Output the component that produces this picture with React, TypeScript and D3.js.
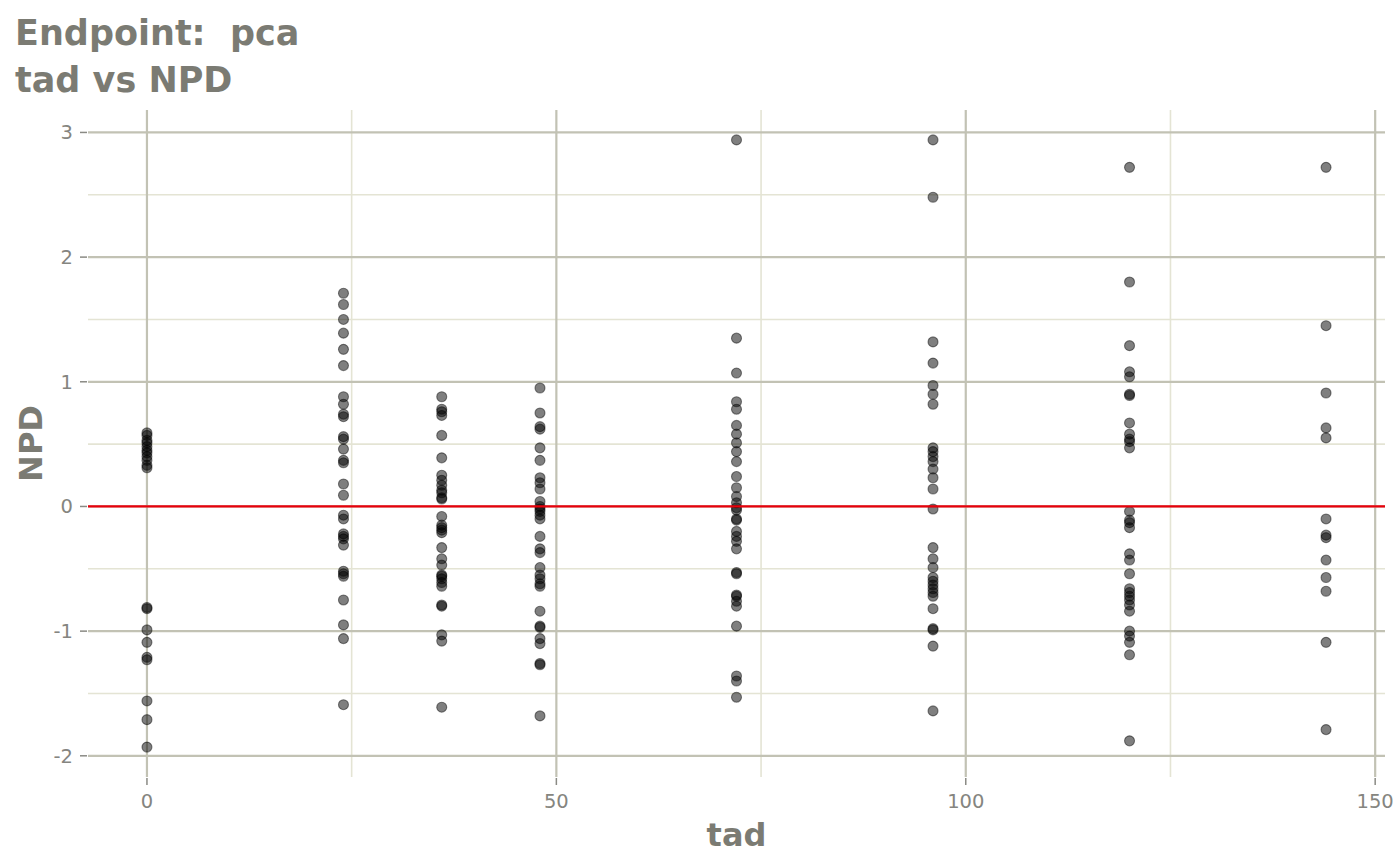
import React from 'react';
import * as d3 from 'd3';

// NPD values per time after dose (tad)
const tadLevels = [0, 24, 36, 48, 72, 96, 120, 144];

const npd0 = [0.59, 0.57, 0.53, 0.51, 0.48, 0.45, 0.43, 0.40, 0.37, 0.33, 0.31, -0.81, -0.82, -0.99, -1.09, -1.21, -1.23, -1.56, -1.71, -1.93];
const npd24 = [1.71, 1.62, 1.50, 1.39, 1.26, 1.13, 0.88, 0.82, 0.74, 0.72, 0.56, 0.54, 0.46, 0.37, 0.35, 0.18, 0.09, -0.07, -0.10, -0.22, -0.24, -0.26, -0.31, -0.52, -0.54, -0.56, -0.75, -0.95, -1.06, -1.59];
const npd36 = [0.88, 0.78, 0.76, 0.73, 0.57, 0.39, 0.25, 0.21, 0.17, 0.13, 0.11, 0.07, 0.06, -0.08, -0.15, -0.17, -0.19, -0.21, -0.33, -0.42, -0.47, -0.55, -0.56, -0.58, -0.61, -0.64, -0.79, -0.80, -1.03, -1.08, -1.61];
const npd48 = [0.95, 0.75, 0.64, 0.62, 0.47, 0.37, 0.23, 0.19, 0.14, 0.04, 0.0, -0.02, -0.04, -0.07, -0.10, -0.24, -0.34, -0.37, -0.49, -0.55, -0.58, -0.62, -0.64, -0.84, -0.96, -0.97, -1.06, -1.10, -1.26, -1.27, -1.68];
const npd72 = [2.94, 1.35, 1.07, 0.84, 0.78, 0.65, 0.58, 0.51, 0.44, 0.36, 0.24, 0.15, 0.08, 0.03, -0.01, -0.03, -0.10, -0.11, -0.20, -0.24, -0.28, -0.34, -0.53, -0.54, -0.71, -0.72, -0.76, -0.80, -0.96, -1.36, -1.40, -1.53];
const npd96 = [2.94, 2.48, 1.32, 1.15, 0.97, 0.90, 0.82, 0.47, 0.44, 0.40, 0.36, 0.30, 0.23, 0.14, -0.02, -0.33, -0.42, -0.49, -0.57, -0.60, -0.63, -0.66, -0.69, -0.72, -0.82, -0.98, -0.99, -1.12, -1.64];
const npd120 = [2.72, 1.80, 1.29, 1.08, 1.04, 0.89, 0.90, 0.67, 0.58, 0.54, 0.52, 0.47, -0.04, -0.11, -0.13, -0.17, -0.38, -0.43, -0.54, -0.66, -0.69, -0.72, -0.75, -0.79, -0.84, -1.00, -1.04, -1.09, -1.19, -1.88];
const npd144 = [2.72, 1.45, 0.91, 0.63, 0.55, -0.10, -0.23, -0.25, -0.43, -0.57, -0.68, -1.09, -1.79];

const npdByTad = [npd0, npd24, npd36, npd48, npd72, npd96, npd120, npd144];

const xTicks = [0, 50, 100, 150];
const xMinor = [25, 75, 125];
const yTicks = [-2, -1, 0, 1, 2, 3];
const yMinor = [-1.5, -0.5, 0.5, 1.5, 2.5];

const W = 1400, H = 865;
const left = 88, right = 1385, top = 110, bottom = 777;

const font = 'DejaVu Sans, sans-serif';
const titleCol = '#7b7b73';
const tickCol = '#858580';
const majorCol = '#c2c2b4';
const minorCol = '#e4e4d4';

export default function App() {
  const points = tadLevels.flatMap((t, i) => npdByTad[i].map(v => ({ tad: t, npd: v })));

  const xExt = d3.extent(points, d => d.tad) as [number, number];
  const xPad = (xExt[1] - xExt[0]) * 0.05;

  const x = d3.scaleLinear().domain([xExt[0] - xPad, xExt[1] + xPad]).range([left, right]);
  const y = d3.scaleLinear().domain([-2.17, 3.18]).range([bottom, top]);

  return (
    <svg width={W} height={H} style={{ position: 'absolute', left: 0, top: 0, background: '#fff' }}
         fontFamily={font}>
      {/* minor grid */}
      {yMinor.map(v =>
        <line key={'ym' + v} x1={left} x2={right} y1={y(v)} y2={y(v)} stroke={minorCol} strokeWidth={1.6} />)}
      {xMinor.map(v =>
        <line key={'xm' + v} x1={x(v)} x2={x(v)} y1={top} y2={bottom} stroke={minorCol} strokeWidth={1.6} />)}
      {/* major grid */}
      {yTicks.map(v =>
        <line key={'yg' + v} x1={left} x2={right} y1={y(v)} y2={y(v)} stroke={majorCol} strokeWidth={2.2} />)}
      {xTicks.map(v =>
        <line key={'xg' + v} x1={x(v)} x2={x(v)} y1={top} y2={bottom} stroke={majorCol} strokeWidth={2.2} />)}

      {/* points */}
      {points.map((d, i) =>
        <circle key={i} cx={x(d.tad)} cy={y(d.npd)} r={5}
                fill="#000" fillOpacity={0.5} stroke="#000" strokeOpacity={0.45} strokeWidth={1.1} />)}

      {/* reference line */}
      <line x1={left} x2={right} y1={y(0)} y2={y(0)} stroke="#e8000b" strokeWidth={2.2} />

      {/* axes ticks */}
      {xTicks.map(v =>
        <g key={'xt' + v}>
          <line x1={x(v)} x2={x(v)} y1={bottom + 1} y2={bottom + 8} stroke="#8a8a84" strokeWidth={1.5} />
          <text x={x(v)} y={808} textAnchor="middle" fontSize={19.5} fill={tickCol}>{v}</text>
        </g>)}
      {yTicks.map(v =>
        <g key={'yt' + v}>
          <line x1={left - 8} x2={left - 1} y1={y(v)} y2={y(v)} stroke="#8a8a84" strokeWidth={1.5} />
          <text x={73} y={y(v)} dy="0.36em" textAnchor="end" fontSize={19.5} fill={tickCol}>{v}</text>
        </g>)}

      {/* axis titles */}
      <text x={(left + right) / 2} y={846} textAnchor="middle" fontSize={32} fontWeight="bold" fill={titleCol}>tad</text>
      <text transform={`translate(42,${(top + bottom) / 2}) rotate(-90)`} textAnchor="middle"
            fontSize={32} fontWeight="bold" fill={titleCol}>NPD</text>

      {/* title */}
      <text x={15} y={45} fontSize={35} fontWeight="bold" fill={titleCol} style={{ whiteSpace: 'pre' }}>{'Endpoint:  pca'}</text>
      <text x={15} y={92} fontSize={35} fontWeight="bold" fill={titleCol}>tad vs NPD</text>
    </svg>
  );
}
